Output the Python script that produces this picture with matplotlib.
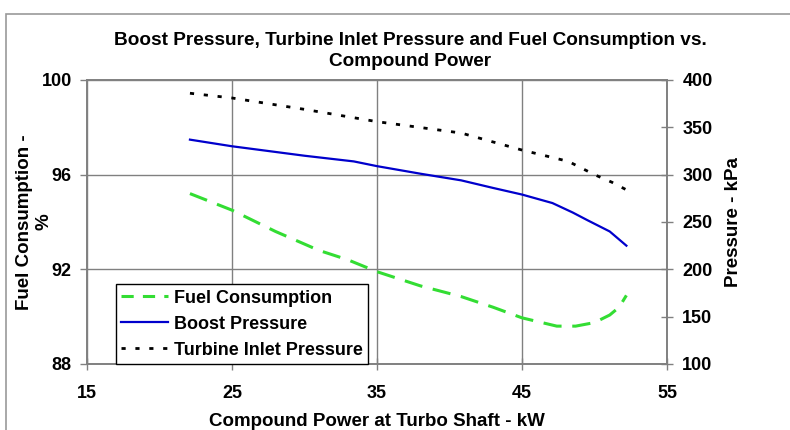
import matplotlib
matplotlib.use("Agg")
import matplotlib.pyplot as plt
from matplotlib.patches import Rectangle
from matplotlib.lines import Line2D

plt.rcParams["font.family"] = ["Liberation Sans", "DejaVu Sans"]
plt.rcParams["font.weight"] = "bold"

# Datos
fuel_kw = [22.1, 25, 28, 31, 33, 35, 38, 40.8, 43, 45, 47.4, 48.7, 50, 51.05, 51.7, 52.2]
fuel_pct = [95.2, 94.5, 93.6, 92.8, 92.4, 91.9, 91.3, 90.85, 90.4, 89.95, 89.6, 89.6, 89.75, 90.07, 90.4, 90.9]

boost_kw = [22.1, 25, 30, 33.4, 35, 38, 40.8, 43, 45, 47.1, 48.5, 49.5, 51.05, 52.2]
boost_kpa = [337, 330, 320, 314, 309, 301, 294, 286, 279, 270, 260, 252, 240, 225]

turb_kw = [22.1, 25, 30, 35, 40.8, 45, 48.2, 50, 51.2, 52.2]
turb_kpa = [386, 381, 369, 356, 344, 326, 314, 300, 292, 284]

x_ticks = [15, 25, 35, 45, 55]
fuel_ticks = [88, 92, 96, 100]
press_ticks = [100, 150, 200, 250, 300, 350, 400]

GRIS = "#808080"
VERDE = "#33dd33"
AZUL = "#0000cc"
FS = 13

fig = plt.figure(figsize=(7.9, 4.3), dpi=100)
# marco exterior del grafico
fig.patches.append(Rectangle((6 / 790, -0.1), 1.2, 1.1 - 14 / 430,
                             transform=fig.transFigure, fill=False,
                             edgecolor="#999999", lw=1.2))

ax = fig.add_axes([87 / 790, 1 - 364 / 430, 580 / 790, 284 / 430])
ax2 = ax.twinx()

ax.plot(fuel_kw, fuel_pct, color=VERDE, lw=2.2, dashes=(6, 3.5))
ax2.plot(boost_kw, boost_kpa, color=AZUL, lw=1.6)
ax2.plot(turb_kw, turb_kpa, color="black", lw=2, dashes=(1.5, 3.5))

ax.set_xlim(15, 55)
ax.set_ylim(88, 100)
ax2.set_ylim(100, 400)
ax.set_xticks(x_ticks)
ax.set_yticks(fuel_ticks)
ax2.set_yticks(press_ticks)

ax.grid(True, color=GRIS, lw=1)
ax.set_axisbelow(True)
for a in (ax, ax2):
    for s in a.spines.values():
        s.set_color(GRIS)
        s.set_linewidth(1.2)
ax.tick_params(axis="y", direction="out", length=5, width=1, color=GRIS,
               labelsize=FS, pad=6)
ax.tick_params(axis="x", direction="inout", length=8, width=1, color=GRIS,
               labelsize=FS, pad=11)
ax2.tick_params(axis="y", direction="inout", length=8, width=1, color=GRIS,
                labelsize=FS, pad=7)

ax.set_xlabel("Compound Power at Turbo Shaft - kW", fontsize=13.5,
              fontweight="bold", va="center")
ax.xaxis.set_label_coords(0.5, (364 - 421) / 284)
ax.set_ylabel("Fuel Consumption -\n%", fontsize=13.5, fontweight="bold",
              va="center", linespacing=1.2)
ax.yaxis.set_label_coords((34 - 87) / 580, 0.5)
ax2.set_ylabel("Pressure - kPa", fontsize=13.5, fontweight="bold",
               va="center", rotation=90)
ax2.yaxis.set_label_coords((734 - 87) / 580, 0.5)

fig.text(410 / 790, 1 - 51 / 430,
         "Boost Pressure, Turbine Inlet Pressure and Fuel Consumption vs.\nCompound Power",
         ha="center", va="center", fontsize=13.7, fontweight="bold",
         linespacing=1.25)

handles = [
    Line2D([], [], color=VERDE, lw=2.2, dashes=(4, 3)),
    Line2D([], [], color=AZUL, lw=1.6),
    Line2D([], [], color="black", lw=2, dashes=(1.5, 3.5)),
]
labels = ["Fuel Consumption", "Boost Pressure", "Turbine Inlet Pressure"]
leg = ax2.legend(handles, labels, loc="lower left",
                 bbox_to_anchor=((116 - 87) / 580, 0.0),
                 fontsize=FS, frameon=True, fancybox=False,
                 edgecolor="black", framealpha=1, handlelength=2.6,
                 handletextpad=0.3, borderpad=0.3, labelspacing=0.5,
                 borderaxespad=0)
leg.get_frame().set_linewidth(1)

fig.savefig("out.png", dpi=100)
